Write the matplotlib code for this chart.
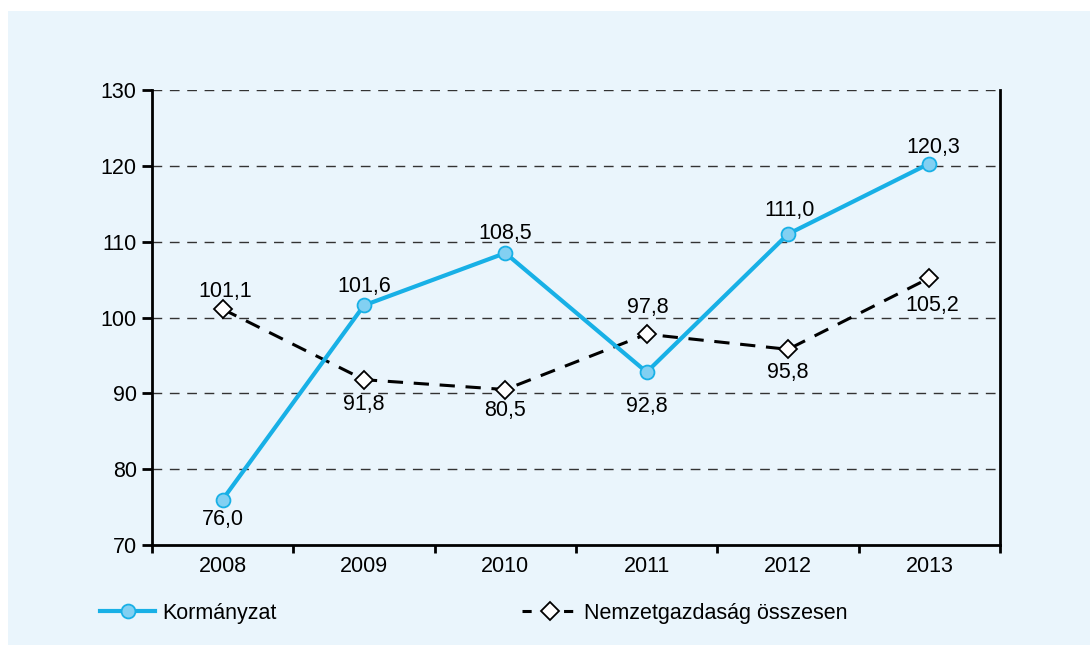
import matplotlib
matplotlib.use("Agg")
import matplotlib.pyplot as plt
from matplotlib.patches import Rectangle
from matplotlib.lines import Line2D

plt.rcParams['font.family'] = ['Liberation Sans', 'DejaVu Sans']

years = ["2008", "2009", "2010", "2011", "2012", "2013"]
korm = [76.0, 101.6, 108.5, 92.8, 111.0, 120.3]
korm_labels = ["76,0", "101,6", "108,5", "92,8", "111,0", "120,3"]
nemz = [101.1, 91.8, 90.5, 97.8, 95.8, 105.2]
nemz_labels = ["101,1", "91,8", "80,5", "97,8", "95,8", "105,2"]
yticks = [70, 80, 90, 100, 110, 120, 130]

# label placement (pixels, relative to the marker)
korm_off = [(0, -19), (0, 20), (0, 21), (0, -33), (2, 25), (4, 17)]
nemz_off = [(3, 19), (0, -24), (0, -20), (1, 28), (0, -22), (3, -26)]

BG = "#EAF5FC"
BLUE = "#18B0E6"
BLUE_FILL = "#82D0F2"

fig = plt.figure(figsize=(10.9, 6.45), dpi=100, facecolor="white")
fig.patches.append(Rectangle((8/1090, 0), 1, 1 - 11/645, transform=fig.transFigure,
                             facecolor=BG, edgecolor="none", zorder=-10))
ax = fig.add_axes([152/1090, 1 - 545/645, 848/1090, 455/645])
ax.set_facecolor(BG)
ax.patch.set_alpha(0)

x = list(range(len(years)))
ax.set_xlim(-0.5, 5.5)
ax.set_ylim(70, 130)

for yv in yticks[1:]:
    ax.axhline(yv, color="#333333", lw=1.0, dashes=(7, 5.5), zorder=1)

ax.plot(x, nemz, color="black", lw=2.2, dashes=(5, 3.5), marker="D", markersize=9,
        markerfacecolor="white", markeredgecolor="black", markeredgewidth=1.3, zorder=3)
ax.plot(x, korm, color=BLUE, lw=3, marker="o", markersize=10,
        markerfacecolor=BLUE_FILL, markeredgecolor=BLUE, markeredgewidth=1.3, zorder=4)

fs = 15.5
for xi, v, lab, off in zip(x, korm, korm_labels, korm_off):
    ax.annotate(lab, (xi, v), xytext=(off[0], off[1] - 1), textcoords="offset pixels",
                ha="center", va="center", fontsize=fs, zorder=5)
for xi, v, lab, off in zip(x, nemz, nemz_labels, nemz_off):
    ax.annotate(lab, (xi, v), xytext=(off[0], off[1] - 1), textcoords="offset pixels",
                ha="center", va="center", fontsize=fs, zorder=5)

ax.spines["top"].set_visible(False)
for s in ["left", "bottom", "right"]:
    ax.spines[s].set_linewidth(2)
    ax.spines[s].set_color("black")

ax.set_yticks(yticks)
ax.set_yticklabels([str(t) for t in yticks], fontsize=fs)
ax.tick_params(axis="y", direction="out", length=7, width=2, pad=4)
ax.set_xticks(x)
ax.set_xticklabels(years, fontsize=fs)
ax.tick_params(axis="x", which="major", length=0, pad=8)
ax.set_xticks([i + 0.5 for i in range(-1, 6)], minor=True)
ax.tick_params(axis="x", which="minor", direction="out", length=6, width=2)

h1 = Line2D([], [], color=BLUE, lw=3, marker="o", markersize=10,
            markerfacecolor=BLUE_FILL, markeredgecolor=BLUE, markeredgewidth=1.3)
h2 = Line2D([], [], color="black", lw=2.2, dashes=(3, 3.8), marker="D", markersize=9,
            markerfacecolor="white", markeredgecolor="black", markeredgewidth=1.3)
fig.legend([h1, h2], ["Kormányzat", "Nemzetgazdaság összesen"], loc="center left",
           bbox_to_anchor=(81/1090, 1 - 613/645), ncol=2, frameon=False, fontsize=fs,
           handlelength=2.55, handletextpad=0.33, columnspacing=11.4)

fig.savefig("out.png", dpi=100, facecolor="white")
